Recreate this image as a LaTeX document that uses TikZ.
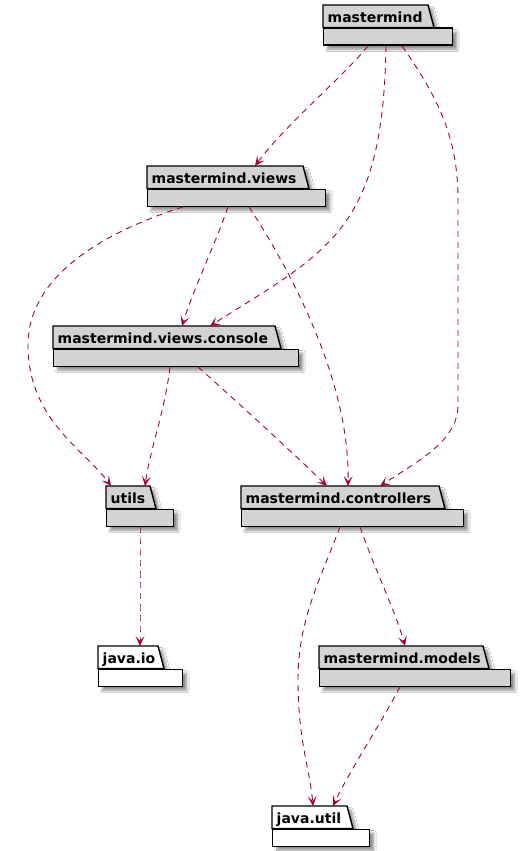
\documentclass[tikz,border=0pt]{standalone}
\usepackage{fontspec}
\setsansfont{DejaVu Sans}
\usetikzlibrary{arrows.meta,shadows.blur,calc}
\definecolor{edgec}{HTML}{A80036}
\definecolor{pkgfill}{HTML}{D3D3D3}
\tikzset{
  pkgshadow/.style={blur shadow={shadow xshift=4pt, shadow yshift=-4pt,
    shadow blur steps=6, shadow blur radius=2.5pt, shadow opacity=45}},
  pkgoutline/.style={draw=black, line width=1.4pt, line join=miter, pkgshadow},
  pkgtab/.style={anchor=north west, inner xsep=4.5pt, inner ysep=4.5pt,
    text height=12.5pt, text depth=1pt,
    font=\sffamily\bfseries\fontsize{14}{16}\selectfont},
  pkgbody/.style={pkgoutline, minimum height=17pt, inner sep=0pt, anchor=north west},
  dep/.style={draw=edgec, line width=0.9pt, dash pattern=on 6pt off 5pt,
    -{Stealth[length=10pt,width=9pt,inset=5pt]}},
}
% #1 name, #2 x, #3 y, #4 tab width, #5 body width, #6 fill, #7 text
\newcommand\pkgdraw[7]{%
  \filldraw[pkgoutline, fill=#6] (#2,#3) -- ++(#4,0) -- ++(6,22.5) -- ++({-#4-6},0) -- cycle;
  \node[pkgtab] (#1t) at (#2,#3) {#7};
  \node[pkgbody, fill=#6, minimum width=#5] (#1) at (#2,{#3+22.5}) {};
}
\begin{document}
\begin{tikzpicture}[x=1pt,y=-1pt]
\useasboundingbox (0,0) rectangle (526,851);
\fill[white] (0,0) rectangle (526,851);

\pkgdraw{mm}{323}{5}{105}{129pt}{pkgfill}{mastermind}
\pkgdraw{views}{147}{166}{156}{178pt}{pkgfill}{mastermind.views}
\pkgdraw{cons}{53}{326}{222}{245pt}{pkgfill}{mastermind.views.console}
\pkgdraw{utils}{106}{486}{44}{67pt}{pkgfill}{utils}
\pkgdraw{ctrl}{241}{486}{198}{222pt}{pkgfill}{mastermind.controllers}
\pkgdraw{jio}{98}{646}{60}{84pt}{white}{java.io}
\pkgdraw{models}{319}{646}{164}{191pt}{pkgfill}{mastermind.models}
\pkgdraw{jutil}{272}{806}{75}{97pt}{white}{java.util}

% mastermind -> views
\draw[dep] ([xshift=45pt]mm.south west) .. controls (345,75) and (285,125) .. ([xshift=108pt]viewst.north west);
% mastermind -> console
\draw[dep] ([xshift=63pt]mm.south west) .. controls (383,230) and (330,250) .. ([xshift=157pt]const.north west);
% mastermind -> controllers
\draw[dep] ([xshift=79pt]mm.south west) .. controls (440,100) and (458,140) .. (458,200)
  -- (458,405) .. controls (458,440) and (420,460) .. ([xshift=139pt]ctrlt.north west);
% views -> utils
\draw[dep] ([xshift=36pt]views.south west) .. controls (95,235) and (28,280) .. (28,345)
  .. controls (28,420) and (85,450) .. ([xshift=5pt]utilst.north west);
% views -> console
\draw[dep] ([xshift=81pt]views.south west) .. controls (215,245) and (195,285) .. ([xshift=129pt]const.north west);
% views -> controllers
\draw[dep] ([xshift=102pt]views.south west) .. controls (290,270) and (350,380) .. ([xshift=107pt]ctrlt.north west);
% console -> utils
\draw[dep] ([xshift=117pt]cons.south west) .. controls (165,410) and (150,450) .. ([xshift=39pt]utilst.north west);
% console -> controllers
\draw[dep] ([xshift=145pt]cons.south west) .. controls (235,400) and (290,450) .. ([xshift=86pt]ctrlt.north west);
% utils -> java.io
\draw[dep] ([xshift=34pt]utils.south west) .. controls (140,575) and (140,600) .. ([xshift=42pt]jiot.north west);
% controllers -> java.util
\draw[dep] ([xshift=99pt]ctrl.south west) .. controls (320,580) and (298,620) .. (298,680)
  .. controls (298,740) and (310,770) .. ([xshift=41pt]jutilt.north west);
% controllers -> models
\draw[dep] ([xshift=119pt]ctrl.south west) .. controls (375,570) and (395,610) .. ([xshift=86pt]modelst.north west);
% models -> java.util
\draw[dep] ([xshift=81pt]models.south west) .. controls (380,725) and (350,770) .. ([xshift=61pt]jutilt.north west);
\end{tikzpicture}
\end{document}
